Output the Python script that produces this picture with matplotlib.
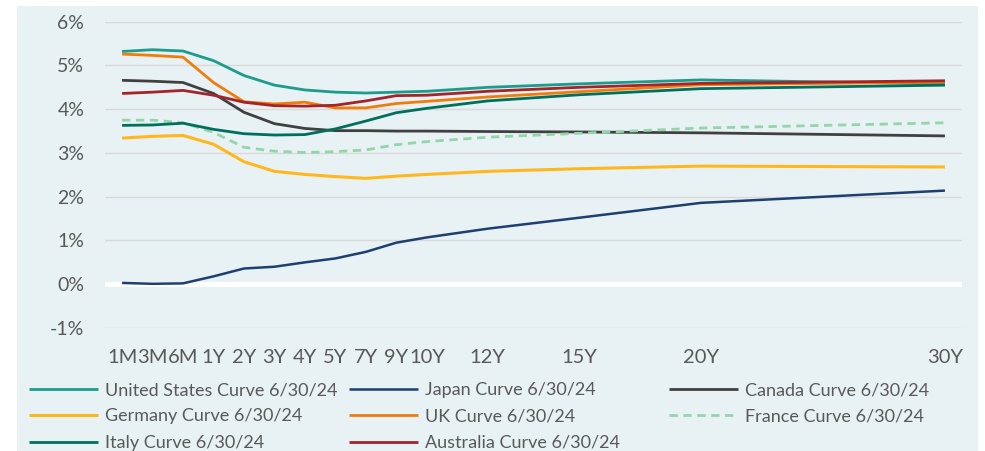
import matplotlib
matplotlib.use("Agg")
import matplotlib.pyplot as plt
from matplotlib.patches import Rectangle

plt.rcParams['font.family'] = ['Lato', 'DejaVu Sans']

tenors = ["1M", "3M", "6M", "1Y", "2Y", "3Y", "4Y", "5Y", "7Y", "9Y", "10Y", "12Y", "15Y", "20Y", "30Y"]
# position of each tenor on the chart's category-style axis (gaps for missing years)
tenor_pos = [0, 1, 2, 3, 4, 5, 6, 7, 8, 9, 10, 12, 15, 19, 27]

us = [5.32, 5.36, 5.33, 5.11, 4.77, 4.55, 4.44, 4.39, 4.37, 4.39, 4.41, 4.50, 4.58, 4.67, 4.58]
japan = [0.03, 0.01, 0.02, 0.18, 0.36, 0.40, 0.50, 0.59, 0.74, 0.95, 1.07, 1.27, 1.52, 1.86, 2.14]
canada = [4.66, 4.64, 4.61, 4.36, 3.93, 3.67, 3.56, 3.51, 3.51, 3.50, 3.50, 3.49, 3.48, 3.46, 3.39]
germany = [3.34, 3.38, 3.40, 3.20, 2.80, 2.58, 2.51, 2.46, 2.42, 2.47, 2.51, 2.58, 2.64, 2.70, 2.68]
uk = [5.26, 5.23, 5.19, 4.61, 4.17, 4.12, 4.16, 4.03, 4.03, 4.13, 4.18, 4.28, 4.40, 4.56, 4.62]
france = [3.75, 3.75, 3.69, 3.47, 3.13, 3.04, 3.01, 3.03, 3.07, 3.19, 3.26, 3.36, 3.45, 3.57, 3.69]
italy = [3.63, 3.64, 3.68, 3.54, 3.44, 3.41, 3.42, 3.55, 3.73, 3.92, 4.02, 4.19, 4.33, 4.47, 4.55]
australia = [4.36, 4.39, 4.43, 4.32, 4.16, 4.08, 4.07, 4.09, 4.19, 4.31, 4.32, 4.41, 4.50, 4.59, 4.65]

series_names = ["United States Curve 6/30/24", "Japan Curve 6/30/24", "Canada Curve 6/30/24",
                "Germany Curve 6/30/24", "UK Curve 6/30/24", "France Curve 6/30/24",
                "Italy Curve 6/30/24", "Australia Curve 6/30/24"]
series_vals = [us, japan, canada, germany, uk, france, italy, australia]
colors = ["#1c9c8c", "#1d3f72", "#404040", "#ffb81c", "#f07d0a", "#93d6a9", "#00705c", "#a3242a"]
widths = [2.0, 1.8, 2.0, 2.2, 2.0, 2.0, 2.0, 2.0]
styles = ["-", "-", "-", "-", "-", "--", "-", "-"]

yticks = [-1, 0, 1, 2, 3, 4, 5, 6]

W, H = 985, 451
FS = 13
fig = plt.figure(figsize=(W / 100, H / 100), dpi=100)
fig.patch.set_facecolor("white")
bg = "#e8f1f4"
fig.patches.append(Rectangle((17 / W, 0), (978 - 17) / W, 1 - 6 / H,
                             transform=fig.transFigure, facecolor=bg, edgecolor="none", zorder=-5))

ax = fig.add_axes([105 / W, 1 - 328 / H, (962 - 105) / W, (328 - 21.7) / H])
ax.set_zorder(1)
ax.set_facecolor("none")
for s in ax.spines.values():
    s.set_visible(False)

ax.set_ylim(-1, 6)
ax.set_xlim(-0.56, 27.56)
ax.set_yticks(yticks)
ax.set_yticklabels([f"{t}%" for t in yticks])
ax.set_xticks(tenor_pos)
ax.set_xticklabels(tenors)
ax.tick_params(axis="y", length=0, pad=15, labelsize=14, labelcolor="#595959")
ax.tick_params(axis="x", length=0, pad=15, labelsize=14.5, labelcolor="#595959")
ax.grid(axis="y", color="#d9d9d9", linewidth=1.0)
ax.set_axisbelow(True)
ax.axhline(0, color="white", linewidth=3.5, zorder=1.5)

handles = []
for name, vals, c, lw, ls in zip(series_names, series_vals, colors, widths, styles):
    ln, = ax.plot(tenor_pos, vals, color=c, linewidth=lw, linestyle=ls, label=name,
                  solid_capstyle="butt", zorder=3)
    if ls == "--":
        ln.set_dashes((3.0, 2.0))
    handles.append(ln)

# legend in three columns (Excel-like fixed column positions)
cols = [[0, 3, 6], [1, 4, 7], [2, 5]]
col_x = [29, 349, 669]
for xs, idx in zip(col_x, cols):
    fig.legend([handles[i] for i in idx], [series_names[i] for i in idx],
               loc="upper left", bbox_to_anchor=(xs / W, 1 - 382 / H),
               frameon=False, fontsize=FS, handlelength=3.8, handletextpad=0.4,
               labelspacing=0.58, borderaxespad=0, borderpad=0, labelcolor="#595959")

fig.savefig("out.png", dpi=100)
